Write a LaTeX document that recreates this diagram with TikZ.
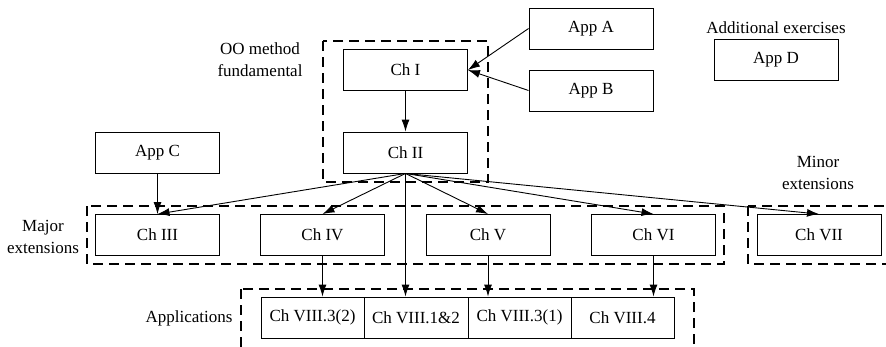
\documentclass[tikz,border=0pt]{standalone}
\usepackage{fontspec}
\setmainfont{Liberation Serif}
\usetikzlibrary{arrows.meta}

\begin{document}
\begin{tikzpicture}[x=1pt,y=-1pt,
  font=\fontsize{17}{22}\selectfont,
  box/.style={draw, line width=0.9pt, minimum width=124pt, minimum height=41pt, inner sep=0pt},
  subbox/.style={draw, line width=0.9pt, minimum width=103pt, minimum height=41pt, inner sep=0pt},
  group/.style={draw, line width=1.8pt, dash pattern=on 10pt off 6pt},
  link/.style={line width=0.9pt, -{Latex[length=12pt,width=8pt]}},
  caption/.style={align=center, inner sep=0pt}]

\clip (0,0) rectangle (886,346);
\fill[white] (0,0) rectangle (886,346);

% dashed groupings
\draw[group] (323,41) rectangle (488,182);
\draw[group] (87,206) rectangle (724,264);
\draw[group] (748,206) rectangle (910,264);
\draw[group] (241,289) rectangle (694,370);

% group captions
\node[caption] (capOO) at (260,60) {OO method\\fundamental};
\node[caption] (capAdd) at (776,28) {Additional exercises};
\node[caption] (capMinor) at (818,173) {Minor\\extensions};
\node[caption] (capMajor) at (43,237) {Major\\extensions};
\node[caption] (capApp) at (189,318) {Applications};

% appendices
\node[box] (appA) at (591,28.5) {App A};
\node[box] (appB) at (591,90.5) {App B};
\node[box] (appC) at (157.5,153) {App C};
\node[box] (appD) at (776,59.5) {App D};

% chapters
\node[box] (ch1) at (405.5,70) {Ch I};
\node[box] (ch2) at (405.5,152.5) {Ch II};
\node[box] (ch3) at (157.5,235) {Ch III};
\node[box] (ch4) at (322.5,235) {Ch IV};
\node[box] (ch5) at (488,235) {Ch V};
\node[box] (ch6) at (653.5,235) {Ch VI};
\node[box] (ch7) at (819,235) {Ch VII};

% chapter VIII sections
\node[subbox] (s32) at (312.5,317.5) {Ch VIII.3(2)};
\node[subbox, minimum width=104pt] (s12) at (416,317.5) {Ch VIII.1\&2};
\node[subbox] (s31) at (519.5,317.5) {Ch VIII.3(1)};
\node[subbox] (s4) at (622.5,317.5) {Ch VIII.4};

% dependencies
\draw[link] (appA.west) -- (ch1.east);
\draw[link] (appB.west) -- (ch1.east);
\draw[link] (ch1.south) -- (ch2.north);
\draw[link] (appC.south) -- (ch3.north);
\draw[link] (ch2.south) -- (ch3.north);
\draw[link] (ch2.south) -- (ch4.north);
\draw[link] (ch2.south) -- (ch5.north);
\draw[link] (ch2.south) -- (ch6.north);
\draw[link] (ch2.south) -- (ch7.north);
\draw[link] (ch2.south) -- (ch2.south |- s12.north);
\draw[link] (ch4.south) -- (ch4.south |- s32.north);
\draw[link] (ch5.south) -- (ch5.south |- s31.north);
\draw[link] (ch6.south) -- (ch6.south |- s4.north);
\end{tikzpicture}
\end{document}
